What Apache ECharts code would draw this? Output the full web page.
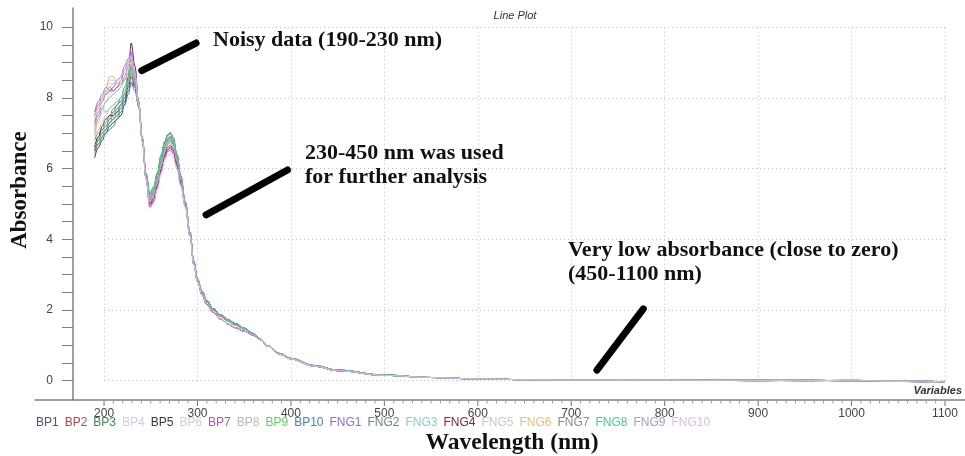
<!DOCTYPE html>
<html><head><meta charset="utf-8">
<script src="https://cdn.jsdelivr.net/npm/echarts@6/dist/echarts.min.js"></script>
<style>html,body{margin:0;padding:0;background:#fff}#c{width:965px;height:456px}</style>
</head><body><div id="c"></div>
<script>
// ---- data ----
const wavelengthsHead = [190,194,198,202,206,210,214,218,222,226,229,233,237,241,245,249,253,257,261,265,268,271,274,278,282,287,292,296,300];
const wavelengthsTail = [305,310,317,325,333,340,350,360,367,375,388,400,425,450,500,550,600,650,700,750,800,850,900,950,1000,1050,1075,1100];

const BP1  = [6.5,6.8,7.0,7.1,7.3,7.4,7.5,7.7,7.9,8.2,8.45,8.3,7.8,6.8,5.75,5.08,5.25,5.65,6.1,6.5,6.72,6.8,6.68,6.25,5.7,5.0,4.15,3.35,2.85];
const BP2  = [7.3,7.6,7.9,8.1,8.2,8.2,8.3,8.4,8.6,8.9,9.1,8.6,7.8,6.75,5.7,4.95,5.1,5.5,5.95,6.35,6.55,6.6,6.5,6.1,5.6,4.95,4.1,3.3,2.8];
const BP3  = [6.6,6.9,7.1,7.2,7.4,7.6,7.8,7.9,8.1,8.4,8.8,8.5,7.85,6.85,5.85,5.28,5.45,5.85,6.35,6.75,6.95,7.02,6.88,6.4,5.8,5.05,4.2,3.38,2.88];
const BP4  = [7.0,7.3,7.6,7.9,8.1,8.2,8.3,8.4,8.5,8.7,8.9,8.5,7.8,6.8,5.75,5.1,5.3,5.7,6.15,6.55,6.78,6.85,6.72,6.28,5.72,5.0,4.15,3.35,2.85];
const BP5  = [6.3,6.6,6.8,7.0,7.2,7.3,7.4,7.5,7.8,8.6,9.55,8.9,7.9,6.8,5.75,5.12,5.3,5.7,6.2,6.6,6.82,6.9,6.76,6.3,5.72,5.0,4.15,3.35,2.85];
const BP6  = [7.4,7.7,8.0,8.3,8.4,8.4,8.5,8.6,8.7,8.9,9.2,8.6,7.8,6.8,5.75,5.05,5.2,5.6,6.05,6.45,6.65,6.72,6.6,6.2,5.65,4.98,4.12,3.32,2.83];
const BP7  = [7.5,7.8,8.0,8.2,8.3,8.2,8.3,8.5,8.8,9.0,9.25,8.7,7.85,6.8,5.7,4.9,5.05,5.45,5.9,6.3,6.48,6.52,6.42,6.05,5.55,4.92,4.1,3.3,2.8];
const BP8  = [6.9,7.1,7.3,7.5,7.7,7.8,7.9,8.0,8.2,8.5,8.75,8.4,7.8,6.8,5.8,5.15,5.32,5.72,6.2,6.6,6.82,6.88,6.75,6.3,5.72,5.0,4.15,3.35,2.85];
const BP9  = [6.7,6.8,7.0,7.2,7.3,7.4,7.6,7.8,8.1,8.5,8.85,8.5,7.85,6.85,5.85,5.25,5.42,5.82,6.3,6.72,6.92,6.98,6.85,6.38,5.78,5.04,4.18,3.37,2.87];
const BP10 = [6.5,6.7,6.9,7.0,7.1,7.2,7.4,7.6,7.8,8.1,8.4,8.2,7.75,6.8,5.78,5.12,5.3,5.7,6.18,6.58,6.78,6.85,6.72,6.28,5.72,5.0,4.15,3.35,2.85];
const FNG1 = [7.6,7.9,8.1,8.3,8.2,8.3,8.5,8.6,8.9,9.1,9.3,8.7,7.85,6.8,5.72,4.92,5.08,5.48,5.95,6.35,6.52,6.58,6.48,6.1,5.58,4.94,4.1,3.3,2.82];
const FNG2 = [6.8,7.0,7.1,7.3,7.5,7.7,7.8,8.0,8.3,8.6,8.9,8.55,7.85,6.85,5.85,5.3,5.48,5.88,6.38,6.78,6.96,7.0,6.86,6.4,5.8,5.05,4.2,3.38,2.88];
const FNG3 = [7.0,7.4,7.7,7.6,7.7,7.8,7.9,8.0,8.2,8.5,8.7,8.4,7.8,6.8,5.8,5.2,5.38,5.78,6.25,6.65,6.85,6.92,6.8,6.35,5.75,5.02,4.16,3.36,2.86];
const FNG4 = [6.6,6.9,7.2,7.4,7.5,7.5,7.6,7.8,8.0,8.3,8.6,8.35,7.8,6.8,5.75,5.0,5.15,5.55,6.0,6.4,6.6,6.65,6.55,6.15,5.62,4.96,4.12,3.32,2.82];
const FNG5 = [7.1,7.6,8.0,8.3,8.5,8.5,8.4,8.5,8.6,8.8,9.0,8.5,7.8,6.8,5.75,5.08,5.25,5.65,6.1,6.5,6.7,6.78,6.66,6.24,5.7,5.0,4.14,3.34,2.84];
const FNG6 = [6.9,7.4,7.9,8.3,8.6,8.6,8.4,8.4,8.5,8.6,8.8,8.45,7.8,6.8,5.78,5.15,5.32,5.72,6.2,6.6,6.8,6.86,6.74,6.3,5.72,5.0,4.15,3.35,2.85];
const FNG7 = [6.4,6.7,6.9,7.1,7.3,7.5,7.7,7.8,8.0,8.4,8.7,8.4,7.8,6.8,5.8,5.18,5.35,5.75,6.22,6.62,6.84,6.9,6.76,6.32,5.74,5.01,4.16,3.35,2.85];
const FNG8 = [6.6,6.8,6.9,7.1,7.3,7.4,7.5,7.8,8.1,8.5,8.8,8.5,7.85,6.85,5.85,5.26,5.45,5.85,6.35,6.75,6.94,7.0,6.86,6.4,5.8,5.05,4.2,3.38,2.88];
const FNG9 = [7.2,7.5,7.7,7.9,8.0,8.1,8.2,8.3,8.5,8.7,8.95,8.5,7.8,6.8,5.75,5.05,5.22,5.62,6.08,6.48,6.68,6.75,6.62,6.22,5.68,4.98,4.12,3.33,2.83];
const FNG10= [7.5,7.7,8.0,8.2,8.3,8.4,8.5,8.6,8.8,9.0,9.2,8.7,7.85,6.78,5.68,4.88,5.02,5.4,5.85,6.22,6.38,6.4,6.32,5.98,5.5,4.9,4.08,3.28,2.8];

const tailMain = [2.48,2.22,1.99,1.82,1.68,1.58,1.46,1.31,1.17,0.98,0.76,0.62,0.42,0.29,0.15,0.09,0.05,0.03,0.02,0.02,0.015,0.01,0.01,0.01,0.0,-0.01,-0.02,-0.03];
const tailLow  = [2.42,2.15,1.93,1.74,1.6,1.5,1.4,1.28,1.16,0.98,0.75,0.61,0.41,0.28,0.15,0.09,0.05,0.03,0.02,0.02,0.02,0.01,0.01,0.0,0.01,-0.02,-0.01,-0.04];
const tailHigh = [2.52,2.26,2.03,1.86,1.72,1.62,1.49,1.33,1.18,0.99,0.77,0.63,0.43,0.3,0.16,0.09,0.05,0.03,0.02,0.01,0.01,0.01,0.0,0.01,0.0,-0.02,-0.03,-0.02];

const seriesNames = ['BP1','BP2','BP3','BP4','BP5','BP6','BP7','BP8','BP9','BP10','FNG1','FNG2','FNG3','FNG4','FNG5','FNG6','FNG7','FNG8','FNG9','FNG10'];
const seriesHeads = [BP1,BP2,BP3,BP4,BP5,BP6,BP7,BP8,BP9,BP10,FNG1,FNG2,FNG3,FNG4,FNG5,FNG6,FNG7,FNG8,FNG9,FNG10];
const seriesTails = [tailHigh,tailLow,tailMain,tailMain,tailHigh,tailMain,tailLow,tailMain,tailMain,tailHigh,tailLow,tailMain,tailMain,tailLow,tailMain,tailMain,tailMain,tailHigh,tailMain,tailLow];

const xTickLabels = [200,300,400,500,600,700,800,900,1000,1100];
const xMinorTicks = [];
for (let v = 200; v <= 1100; v += 10) xMinorTicks.push(v);
const yTickLabels = [0,2,4,6,8,10];
const yMinorTicks = [0,0.5,1,1.5,2,2.5,3,3.5,4,4.5,5,5.5,6,6.5,7,7.5,8,8.5,9,9.5,10];

const annotationTexts = [
  {lines:['Noisy data (190-230 nm)'], at:[213, 40]},
  {lines:['230-450 nm was used','for further analysis'], at:[305, 153]},
  {lines:['Very low absorbance (close to zero)','(450-1100 nm)'], at:[568, 250]}
];
const annotationStrokes = [
  [[240.4, 8.77],[298.5, 9.55]],
  [[309.2, 4.69],[396.3, 5.96]],
  [[727.5, 0.30],[777.1, 2.03]]
];

// ---- styles ----
const seriesColors = ['#4b4f8f','#b5474b','#3c8a4a','#c4d2ea','#4a3030','#c8cde6','#b04fd0','#b8b8c0','#5cd05c','#3a8aa8',
                      '#9a6ad0','#5f8f80','#7fcde0','#8a2035','#c8c8c8','#e8c070','#8a8a8a','#3fcf8f','#a0a0c8','#e8b8e8'];

const wavelengths = wavelengthsHead.concat(wavelengthsTail);

const gridLines = [];
xTickLabels.forEach(v => gridLines.push([{coord:[v,0]},{coord:[v,10]}]));
yTickLabels.forEach(v => gridLines.push([{coord:[200,v]},{coord:[1100,v]}]));

const series = [{
  name: '_grid', type: 'line', data: [], silent: true, z: 1,
  markLine: {
    silent: true, symbol: ['none','none'], label: {show:false}, animation: false,
    lineStyle: {color:'#bdbdbd', type:[1,3], width:1},
    emphasis: {disabled:true},
    data: gridLines
  }
}];
seriesNames.forEach((n, i) => {
  const vals = seriesHeads[i].concat(seriesTails[i]);
  series.push({
    name: n, type: 'line', showSymbol: false, symbol: 'none', z: 3,
    smooth: 0.4, smoothMonotone: 'x',
    lineStyle: {width: 1, color: seriesColors[i]},
    itemStyle: {color: seriesColors[i]},
    data: wavelengths.map((w, k) => [w, vals[k]])
  });
});

const chart = echarts.init(document.getElementById('c'), null, {renderer:'canvas'});
const axisGray = '#808080';
const option = {
  animation: false,
  backgroundColor: '#ffffff',
  grid: {left: 35, right: 0, top: 8, bottom: 56, containLabel: false},
  legend: {
    left: 31, top: 417, padding: 0, itemGap: 1, itemWidth: 0, itemHeight: 0, icon: 'rect',
    selectedMode: false,
    textStyle: {fontFamily: 'Liberation Sans, Arial', fontSize: 12},
    data: seriesNames.map((n, i) => ({name: n, textStyle: {color: seriesColors[i]}}))
  },
  xAxis: {
    type: 'value', min: 126.1, max: 1121.4, position: 'bottom',
    axisLine: {onZero: false, lineStyle: {color: axisGray, width: 1.5}},
    axisTick: {show: false},
    axisLabel: {customValues: xTickLabels, margin: 8, color: '#444', fontSize: 12, fontFamily: 'Liberation Sans, Arial',
      formatter: v => String(v)},
    splitLine: {show: false}
  },
  yAxis: {
    type: 'value', min: -0.546, max: 10.54, offset: -38,
    axisLine: {show: true, onZero: false, lineStyle: {color: axisGray, width: 1.5}},
    axisTick: {show: true, length: 11, customValues: yMinorTicks, lineStyle: {color: axisGray}},
    axisLabel: {customValues: yTickLabels, margin: 20, color: '#444', fontSize: 12, fontFamily: 'Liberation Sans, Arial'},
    splitLine: {show: false}
  },
  series: series
};
chart.setOption(option);

const graphics = [];
// x-axis tick marks positioned through the axis scale
const axisY = chart.convertToPixel({yAxisIndex: 0}, -0.546);
xMinorTicks.forEach(v => {
  const px = chart.convertToPixel({xAxisIndex: 0}, v);
  const major = xTickLabels.indexOf(v) >= 0;
  graphics.push({type:'line', z: 5, silent: true,
    shape: {x1: px, y1: axisY + 1, x2: px, y2: axisY + (major ? 6 : 3.5)},
    style: {stroke: major ? '#707070' : '#999', lineWidth: 1}});
});

const serif = 'bold 22px "Liberation Serif", "Times New Roman", serif';
annotationStrokes.forEach(s => {
  const p1 = chart.convertToPixel({xAxisIndex:0, yAxisIndex:0}, s[0]);
  const p2 = chart.convertToPixel({xAxisIndex:0, yAxisIndex:0}, s[1]);
  graphics.push({type:'line', z: 10, silent: true,
    shape:{x1:p1[0], y1:p1[1], x2:p2[0], y2:p2[1]},
    style:{stroke:'#000', lineWidth:7, lineCap:'round'}});
});
annotationTexts.forEach(a => {
  a.lines.forEach((t, k) => {
    graphics.push({type:'text', z: 10, silent: true, x: a.at[0], y: a.at[1] + k*24,
      style:{text: t, font: serif, fill: '#111', align: 'left', verticalAlign: 'middle'}});
  });
});
graphics.push({type:'text', z:10, silent:true, x: 20, y: 190, rotation: Math.PI/2,
  style:{text:'Absorbance', font:'bold 23px "Liberation Serif", "Times New Roman", serif', fill:'#111', align:'center', verticalAlign:'middle'}});
graphics.push({type:'text', z:10, silent:true, x: 512, y: 443,
  style:{text:'Wavelength (nm)', font:'bold 23.5px "Liberation Serif", "Times New Roman", serif', fill:'#111', align:'center', verticalAlign:'middle'}});
graphics.push({type:'text', z:10, silent:true, x: 515, y: 16,
  style:{text:'Line Plot', font:'italic 11px "Liberation Sans", Arial, sans-serif', fill:'#333', align:'center', verticalAlign:'middle'}});
graphics.push({type:'text', z:10, silent:true, x: 962, y: 391,
  style:{text:'Variables', font:'italic bold 11px "Liberation Sans", Arial, sans-serif', fill:'#333', align:'right', verticalAlign:'middle'}});
chart.setOption({graphic: graphics});
</script>
</body></html>
